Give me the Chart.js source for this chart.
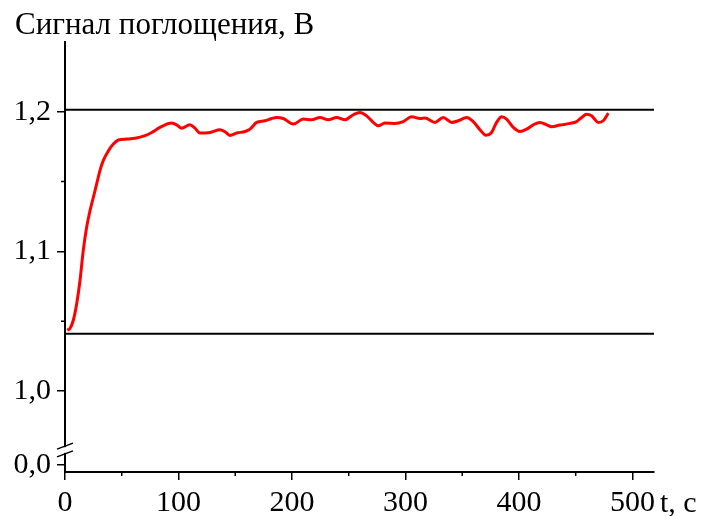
<!DOCTYPE html>
<html>
<head>
<meta charset="utf-8">
<title>Сигнал поглощения</title>
<script src="https://cdn.jsdelivr.net/npm/chart.js@4.4.1/dist/chart.umd.min.js"></script>
<style>
    html, body { margin: 0; padding: 0; background: #fff; }
    canvas { display: block; }
</style>
</head>
<body>
<canvas id="signal-chart" width="702" height="516"></canvas>
<script>
    "use strict";

    // Data
    var tSec = [2, 4.4, 7.3, 10.3, 13.2, 16.1, 19.1, 22, 25, 27.9, 30.8, 33.7, 38.2, 42.6, 47, 54.3, 61.7, 70.5, 76.4, 83.7,
        94, 98.4, 102.8, 110, 114.5, 118.9, 127.8, 136.6, 141, 145.4, 151.3, 158.6, 163, 168.9, 176.2, 182, 186.5, 192.3,
        201.2, 210, 217.3, 224.7, 232, 239.4, 246.7, 254, 259.9, 265.8, 271.6, 276, 281.9, 290.7, 298, 305.4, 312.8, 317.2,
        326, 333.3, 340.7, 346.5, 353.9, 359.7, 365.6, 371, 375.5, 380.3, 384.7, 389.1, 395, 400.9, 406.8, 412.6, 418.5,
        424.4, 428.8, 436.1, 444.9, 450.8, 455.2, 459.6, 464, 469.9, 474.3, 478.7];
    var signal = [1.0436, 1.0448, 1.0507, 1.0626, 1.079, 1.1007, 1.1174, 1.129, 1.1388, 1.1484, 1.1579, 1.165, 1.172, 1.1769, 1.1798, 1.1805, 1.181, 1.1829, 1.1852, 1.1888,
        1.1919, 1.1907, 1.1883, 1.1907, 1.1883, 1.1848, 1.1852, 1.1871, 1.1857, 1.1831, 1.1848, 1.1859, 1.1876, 1.1924, 1.1936, 1.1952, 1.1959, 1.1952,
        1.1912, 1.1948, 1.1943, 1.1959, 1.1943, 1.1959, 1.1943, 1.1979, 1.1995, 1.1971, 1.1924, 1.19, 1.1919, 1.1917, 1.193, 1.1964, 1.1952, 1.1955,
        1.1924, 1.1959, 1.1924, 1.1936, 1.1959, 1.193, 1.1872, 1.1832, 1.1848, 1.1924, 1.1964, 1.1948, 1.1888, 1.1859, 1.1876, 1.1907, 1.1924,
        1.1907, 1.1893, 1.1905, 1.1917, 1.193, 1.1959, 1.1983, 1.1971, 1.1924, 1.1936, 1.199];

    // Horizontal reference levels
    var refLevels = [1.041, 1.2015];

    // Axis ticks
    var xMajorTicks = [0, 100, 200, 300, 400, 500];
    var xMinorTicks = [50, 150, 250, 350, 450];
    var yMajorTicks = [0.947, 1.0, 1.1, 1.2];
    var yTickLabels = ["0,0", "1,0", "1,1", "1,2"];
    var yMinorTicks = [1.05, 1.15];

    var xMin = 0, xMax = 519;
    var yMin = 0.942, yMax = 1.25;
    var yBreak = [0.9605, 0.955];

    var serif = "'Liberation Serif', 'Times New Roman', serif";

    var curve = tSec.map(function (t, i) { return {x: t, y: signal[i]}; });

    var refSets = refLevels.map(function (v) {
        return {
            data: [{x: xMin, y: v}, {x: xMax, y: v}],
            borderColor: "#000",
            borderWidth: 2,
            pointRadius: 0,
            tension: 0
        };
    });

    // Minor ticks, axis break and texts
    var extras = {
        id: "extras",
        afterDraw: function (chart) {
            var ctx = chart.ctx;
            var xs = chart.scales.x, ys = chart.scales.y;
            var area = chart.chartArea;
            ctx.save();
            ctx.strokeStyle = "#000";
            ctx.lineWidth = 1.5;
            ctx.beginPath();
            xMinorTicks.forEach(function (v) {
                var px = xs.getPixelForValue(v);
                ctx.moveTo(px, area.bottom);
                ctx.lineTo(px, area.bottom + 4);
            });
            yMinorTicks.forEach(function (v) {
                var py = ys.getPixelForValue(v);
                ctx.moveTo(area.left - 4, py);
                ctx.lineTo(area.left, py);
            });
            ctx.stroke();

            // axis break
            var b1 = ys.getPixelForValue(yBreak[0]);
            var b2 = ys.getPixelForValue(yBreak[1]);
            ctx.fillStyle = "#fff";
            ctx.fillRect(area.left - 3, b1 + 1, 6, b2 - b1 - 2);
            ctx.beginPath();
            ctx.lineWidth = 1.5;
            [b1, b2].forEach(function (py) {
                ctx.moveTo(area.left - 8, py + 3);
                ctx.lineTo(area.left + 8, py - 3);
            });
            ctx.stroke();

            ctx.fillStyle = "#000";
            ctx.font = "31px " + serif;
            ctx.textBaseline = "alphabetic";
            ctx.textAlign = "left";
            ctx.fillText("Сигнал поглощения, В", 15, 34);
            ctx.font = "30px " + serif;
            ctx.fillText("t, c", area.right + 6, 512);
            ctx.restore();
        }
    };

    var myChart = new Chart(document.getElementById("signal-chart").getContext("2d"), {
        type: "line",
        data: {
            datasets: [{
                data: curve,
                borderColor: "#ff0000",
                borderWidth: 3,
                pointRadius: 0,
                cubicInterpolationMode: "monotone"
            }].concat(refSets)
        },
        options: {
            responsive: false,
            animation: false,
            layout: {padding: {left: 0, top: 42, right: 48, bottom: 0}},
            plugins: {legend: {display: false}, tooltip: {enabled: false}},
            scales: {
                x: {
                    type: "linear",
                    min: xMin,
                    max: xMax,
                    afterFit: function (s) { s.height = 44; },
                    afterBuildTicks: function (s) {
                        s.ticks = xMajorTicks.map(function (v) { return {value: v}; });
                    },
                    border: {display: true, color: "#000", width: 2},
                    grid: {drawOnChartArea: false, drawTicks: true, tickLength: 8, color: "#000", lineWidth: 1.5},
                    ticks: {color: "#000", font: {family: serif, size: 30}, padding: 5, maxRotation: 0}
                },
                y: {
                    type: "linear",
                    min: yMin,
                    max: yMax,
                    afterFit: function (s) { s.width = 65; },
                    afterBuildTicks: function (s) {
                        s.ticks = yMajorTicks.map(function (v) { return {value: v}; });
                    },
                    border: {display: true, color: "#000", width: 2},
                    grid: {drawOnChartArea: false, drawTicks: true, tickLength: 8, color: "#000", lineWidth: 1.5},
                    ticks: {
                        color: "#000",
                        font: {family: serif, size: 30},
                        padding: 6,
                        callback: function (value) {
                            var i = yMajorTicks.indexOf(value);
                            return i >= 0 ? yTickLabels[i] : "";
                        }
                    }
                }
            }
        },
        plugins: [extras]
    });
</script>
</body>
</html>
